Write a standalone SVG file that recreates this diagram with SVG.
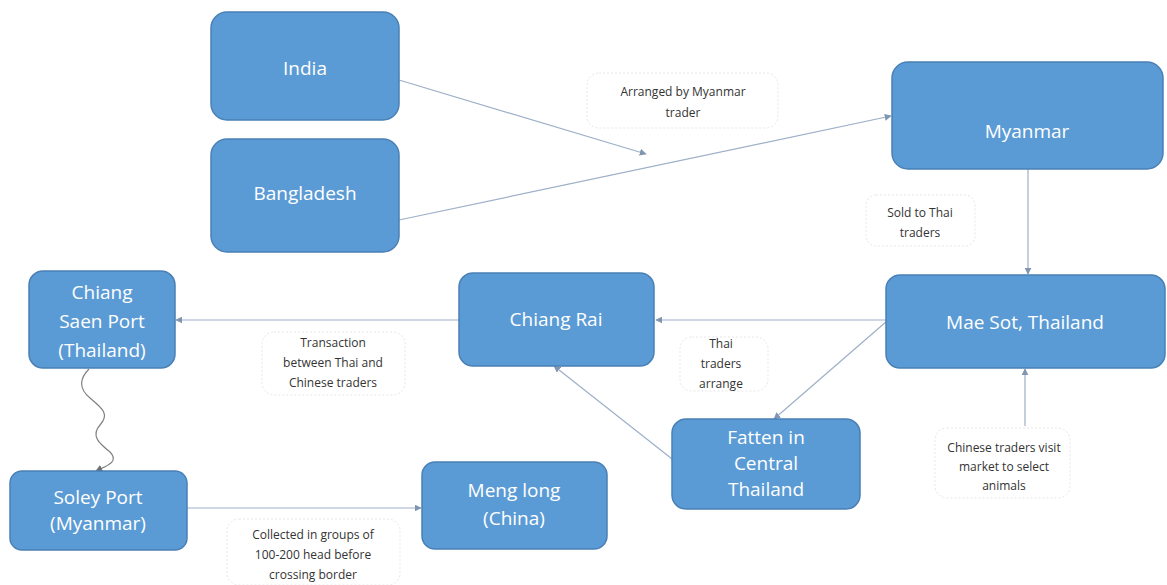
<svg xmlns="http://www.w3.org/2000/svg" width="1167" height="585" viewBox="0 0 1167 585">
<defs>
<style>
.node rect{fill:#5B9BD5;stroke:#4A80B5;stroke-width:1.5}
.node text{font-family:"Open Sans","Noto Sans",sans-serif;font-size:19px;fill:#FFFFFF;text-anchor:middle;dominant-baseline:central}
.lbl rect{fill:#FFFFFF;stroke:#E6E6E6;stroke-width:1;stroke-dasharray:2 2}
.lbl text{font-family:"Open Sans","Noto Sans",sans-serif;font-size:12px;fill:#333333;text-anchor:middle;dominant-baseline:central}
.conn{fill:none;stroke:#9DB0C8;stroke-width:1.2}
.wave{fill:none;stroke:#808080;stroke-width:1.2}
</style>
<marker id="ah" viewBox="0 0 10 10" refX="9" refY="5" markerWidth="7" markerHeight="7" orient="auto" markerUnits="userSpaceOnUse">
<path d="M0,0 L10,5 L0,10 z" fill="#8096B0"/>
</marker>
<marker id="ahw" viewBox="0 0 10 10" refX="9" refY="5" markerWidth="7" markerHeight="7" orient="auto" markerUnits="userSpaceOnUse">
<path d="M0,0 L10,5 L0,10 z" fill="#707070"/>
</marker>
</defs>
<rect width="1167" height="585" fill="#FFFFFF"/>

<g id="connectors">
<path class="conn" d="M399,80 L646,154" marker-end="url(#ah)"/>
<path class="conn" d="M399,220 L891,116" marker-end="url(#ah)"/>
<path class="conn" d="M1028,169 L1028,274" marker-end="url(#ah)"/>
<path class="conn" d="M887,320 L656,320" marker-end="url(#ah)"/>
<path class="conn" d="M887,321 L774,419" marker-end="url(#ah)"/>
<path class="conn" d="M681,466 L554,366" marker-end="url(#ah)"/>
<path class="conn" d="M459,320 L176,320" marker-end="url(#ah)"/>
<path class="conn" d="M187,508 L421,508" marker-end="url(#ah)"/>
<path class="conn" d="M1025,426 L1025,369" marker-end="url(#ah)"/>
<path class="wave" d="M89,369 C80,378 78,388 90,398 C102,408 110,414 100,425 C90,436 100,444 110,452 C120,462 106,466 96,471" marker-end="url(#ahw)"/>
</g>

<g id="label-arranged" class="lbl">
<rect x="587" y="73" width="191" height="55" rx="12"/>
<text x="683" y="91">Arranged by Myanmar</text>
<text x="683" y="112">trader</text>
</g>
<g id="label-sold" class="lbl">
<rect x="866" y="195" width="109" height="51" rx="10"/>
<text x="920" y="212">Sold to Thai</text>
<text x="920" y="232">traders</text>
</g>
<g id="label-transaction" class="lbl">
<rect x="262" y="332" width="143" height="63" rx="12"/>
<text x="333" y="342">Transaction</text>
<text x="333" y="362">between Thai and</text>
<text x="333" y="382">Chinese traders</text>
</g>
<g id="label-thai" class="lbl">
<rect x="680" y="337" width="88" height="54" rx="12"/>
<text x="721" y="343">Thai</text>
<text x="721" y="363">traders</text>
<text x="721" y="383">arrange</text>
</g>
<g id="label-chinese" class="lbl">
<rect x="935" y="428" width="135" height="70" rx="12"/>
<text x="1004" y="447">Chinese traders visit</text>
<text x="1004" y="466">market to select</text>
<text x="1004" y="485">animals</text>
</g>
<g id="label-collected" class="lbl">
<rect x="227" y="519" width="173" height="66" rx="12"/>
<text x="313" y="534">Collected in groups of</text>
<text x="313" y="554">100-200 head before</text>
<text x="313" y="574">crossing border</text>
</g>

<g id="node-india" class="node">
<rect x="211" y="12" width="188" height="108" rx="16"/>
<text x="305" y="68">India</text>
</g>
<g id="node-bangladesh" class="node">
<rect x="211" y="139" width="188" height="113" rx="16"/>
<text x="305" y="193">Bangladesh</text>
</g>
<g id="node-myanmar" class="node">
<rect x="892" y="62" width="271" height="107" rx="16"/>
<text x="1027" y="131">Myanmar</text>
</g>
<g id="node-maesot" class="node">
<rect x="886" y="275" width="279" height="93" rx="14"/>
<text x="1025" y="322">Mae Sot, Thailand</text>
</g>
<g id="node-chiangrai" class="node">
<rect x="459" y="273" width="195" height="93" rx="14"/>
<text x="556" y="319">Chiang Rai</text>
</g>
<g id="node-chiangsaen" class="node">
<rect x="29" y="271" width="146" height="97" rx="14"/>
<text x="102" y="292">Chiang</text>
<text x="102" y="321">Saen Port</text>
<text x="102" y="350">(Thailand)</text>
</g>
<g id="node-fatten" class="node">
<rect x="672" y="419" width="188" height="90" rx="14"/>
<text x="766" y="437">Fatten in</text>
<text x="766" y="463">Central</text>
<text x="766" y="489">Thailand</text>
</g>
<g id="node-soley" class="node">
<rect x="10" y="471" width="177" height="79" rx="12"/>
<text x="98" y="497">Soley Port</text>
<text x="98" y="523">(Myanmar)</text>
</g>
<g id="node-menglong" class="node">
<rect x="422" y="462" width="185" height="87" rx="13"/>
<text x="514" y="490">Meng long</text>
<text x="514" y="518">(China)</text>
</g>
</svg>
